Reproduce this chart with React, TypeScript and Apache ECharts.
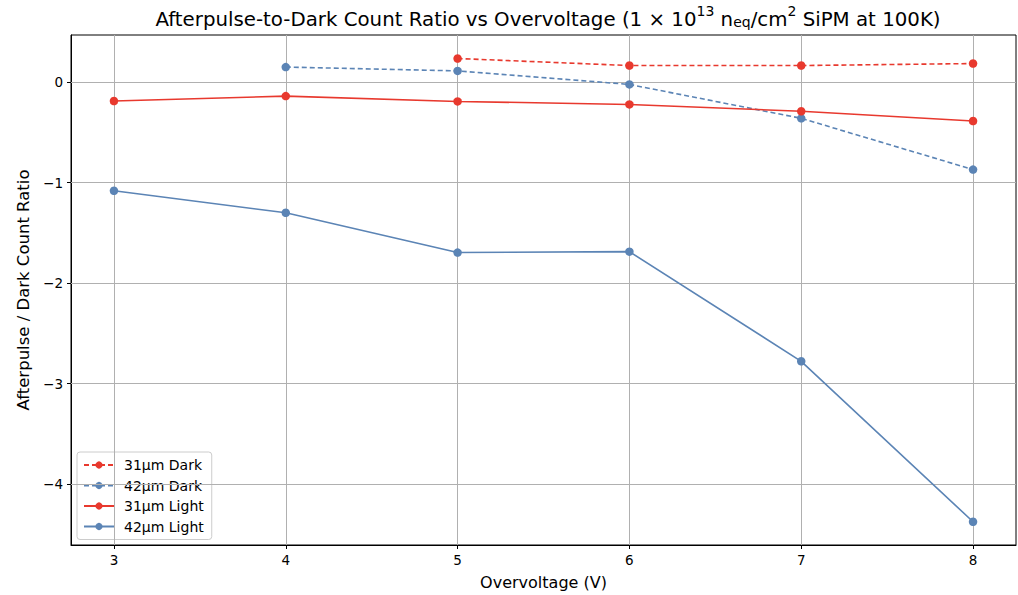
import React, { useEffect, useRef } from "react";
import * as echarts from "echarts";

const overvoltage = [3, 4, 5, 6, 7, 8];
const dark31 = [null, null, 0.235, 0.165, 0.165, 0.185];
const dark42 = [null, 0.15, 0.112, -0.023, -0.36, -0.87];
const light31 = [-0.188, -0.139, -0.192, -0.222, -0.29, -0.387];
const light42 = [-1.081, -1.3, -1.696, -1.687, -2.778, -4.375];
const xTicks = [3, 4, 5, 6, 7, 8];
const yTicks = [-4, -3, -2, -1, 0];

const RED = "#e8392e";
const BLUE = "#5b84b5";
const FONT = "DejaVu Sans";

export default function App() {
  const ref = useRef<HTMLDivElement>(null);
  useEffect(() => {
    const chart = echarts.init(ref.current!, null, { renderer: "svg" });
    const pts = (ys: (number | null)[]) =>
      overvoltage.map((x, i) => [x, ys[i]]).filter((p) => p[1] !== null);
    const mk = (name: string, ys: (number | null)[], color: string, dashed: boolean) => ({
      name,
      type: "line",
      data: pts(ys),
      symbol: "circle",
      symbolSize: 8.5,
      showSymbol: true,
      itemStyle: { color },
      lineStyle: { color, width: 1.6, type: dashed ? [5, 3] : "solid" },
      z: 5,
    });
    chart.setOption({
      animation: false,
      title: {
        text: "{t|Afterpulse-to-Dark Count Ratio vs Overvoltage (1 × 10}{sup|13}{t| n}{sub|eq}{t|/cm}{sup|2}{t| SiPM at 100K)}",
        left: 543,
        textAlign: "center",
        top: -1,
        textStyle: {
          fontWeight: "normal",
          rich: {
            t: { fontFamily: FONT, fontSize: 19.8, fontWeight: "normal", color: "#000", verticalAlign: "bottom", lineHeight: 25 },
            sup: { fontFamily: FONT, fontSize: 14, fontWeight: "normal", color: "#000", verticalAlign: "top", lineHeight: 25, padding: [0, 0, 10, 0] },
            sub: { fontFamily: FONT, fontSize: 14, fontWeight: "normal", color: "#000", verticalAlign: "bottom", lineHeight: 25 },
          },
        },
      },
      grid: {
        left: 71,
        right: 2,
        top: 35,
        bottom: 41,
        containLabel: false,
        show: true,
        borderColor: "#000",
        borderWidth: 1,
        backgroundColor: "transparent",
      },
      legend: {
        orient: "vertical",
        left: 77,
        top: 452,
        data: ["31µm Dark", "42µm Dark", "31µm Light", "42µm Light"],
        itemWidth: 30,
        itemHeight: 9,
        itemGap: 6.5,
        padding: [6, 8, 6, 6],
        backgroundColor: "rgba(255,255,255,0.8)",
        borderColor: "#cccccc",
        borderWidth: 1,
        borderRadius: 3,
        textStyle: { fontFamily: FONT, fontSize: 14, color: "#000", lineHeight: 14, padding: [0, 0, 0, 5] },
      },
      xAxis: {
        type: "value",
        min: 2.75,
        max: 8.25,
        name: "Overvoltage (V)",
        nameLocation: "middle",
        nameGap: 29,
        nameTextStyle: { fontFamily: FONT, fontSize: 16, color: "#000" },
        axisLine: { onZero: false, lineStyle: { color: "#000", width: 1 } },
        axisTick: { show: true, customValues: xTicks, length: 4, lineStyle: { color: "#000" } },
        axisLabel: { customValues: xTicks, fontFamily: FONT, fontSize: 13.5, color: "#000", margin: 8 },
        splitLine: { show: false },
      },
      yAxis: {
        type: "value",
        min: -4.606,
        max: 0.469,
        name: "Afterpulse / Dark Count Ratio",
        nameLocation: "middle",
        nameGap: 39,
        nameTextStyle: { fontFamily: FONT, fontSize: 16.5, color: "#000" },
        axisLine: { show: true, onZero: false, lineStyle: { color: "#000", width: 1 } },
        axisTick: { show: true, customValues: yTicks, length: 4, lineStyle: { color: "#000" } },
        axisLabel: {
          customValues: yTicks,
          fontFamily: FONT,
          fontSize: 13.5,
          color: "#000",
          margin: 8,
          formatter: (v: number) => (v < 0 ? "\u2212" + Math.abs(v) : String(v)),
        },
        splitLine: { show: false },
      },
      series: [
        {
          type: "line",
          data: [],
          silent: true,
          z: 1,
          markLine: {
            silent: true,
            symbol: "none",
            label: { show: false },
            lineStyle: { color: "#b0b0b0", width: 1, type: "solid" },
            data: [
              ...xTicks.map((x) => ({ xAxis: x })),
              ...yTicks.map((y) => ({ yAxis: y })),
            ],
          },
        },
        mk("31µm Dark", dark31, RED, true),
        mk("42µm Dark", dark42, BLUE, true),
        mk("31µm Light", light31, RED, false),
        mk("42µm Light", light42, BLUE, false),
      ],
    });
    return () => chart.dispose();
  }, []);
  return (
    <div
      ref={ref}
      style={{ position: "fixed", left: 0, top: 0, width: 1018, height: 595, background: "#fff" }}
    />
  );
}
